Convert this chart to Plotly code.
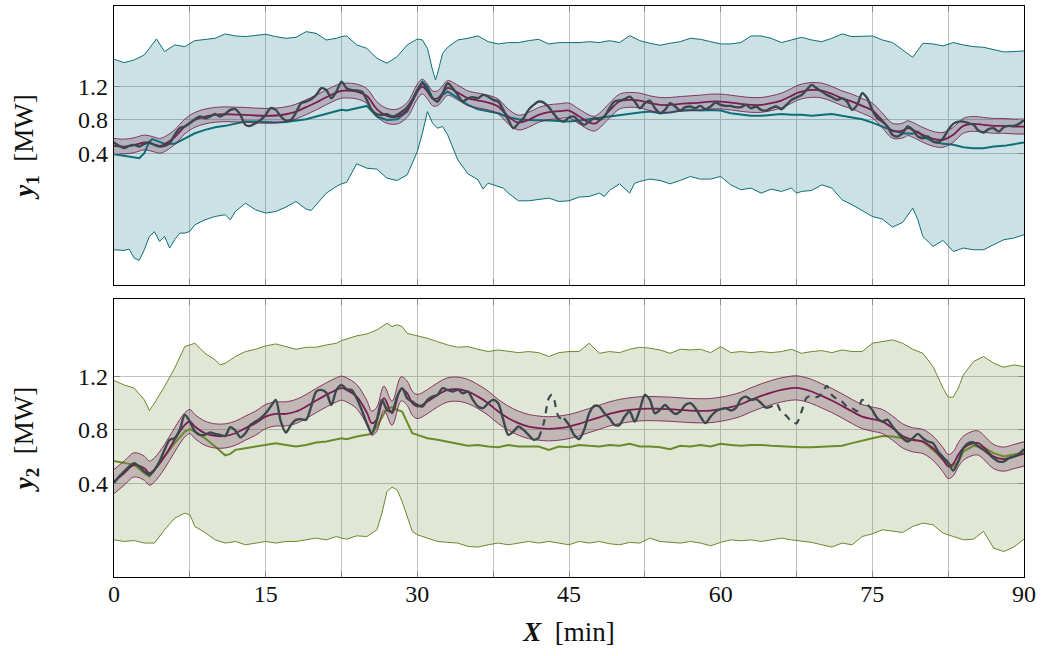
import plotly.graph_objects as go

FONT = "Liberation Serif, Times New Roman, serif"

# ---------------- top panel (y1) ----------------
top_upper = [(0,1.521),(1,1.481),(2,1.513),(3,1.572),(4.2,1.762),(5,1.612),(6,1.691),(7,1.671),(8,1.742),(9,1.758),
             (10,1.770),(11,1.822),(12,1.798),(13,1.790),(14,1.802),(15,1.818),(16,1.790),(17,1.770),(18,1.782),(19,1.849),
             (20,1.829),(21,1.750),(22,1.770),(22.5,1.790),(23,1.798),(24,1.691),(25,1.651),(26,1.533),(27,1.473),(28,1.552),
             (29,1.691),(30,1.762),(30.5,1.750),(31,1.651),(31.5,1.394),(31.8,1.275),(32,1.354),(32.5,1.592),(33,1.663),(34,1.750),
             (35,1.770),(36,1.798),(37,1.730),(38,1.703),(39,1.719),(40,1.719),(41,1.742),(42,1.758),(43,1.703),(44,1.719),
             (45,1.719),(46,1.719),(47,1.730),(48,1.719),(49,1.742),(50,1.719),(51,1.802),(52,1.742),(53,1.711),(54,1.687),
             (55,1.711),(56,1.730),(57,1.770),(58,1.758),(59,1.730),(60,1.703),(61,1.703),(62,1.719),(63,1.798),(64,1.798),
             (65,1.770),(66,1.719),(67,1.750),(68,1.782),(69,1.750),(70,1.730),(71,1.770),(72,1.822),(73,1.790),(74,1.798),
             (75,1.798),(76,1.750),(77,1.719),(78,1.632),(79,1.544),(80,1.711),(81,1.703),(82,1.679),(83,1.719),(84,1.691),
             (85,1.671),(86,1.663),(87,1.639),(88,1.608),(89,1.612),(90,1.620)]
top_lower = [(0,-0.744),(1,-0.752),(1.5,-0.736),(2,-0.843),(2.5,-0.870),(3,-0.744),(3.5,-0.585),(4,-0.530),(4.5,-0.645),
             (5,-0.585),(5.5,-0.724),(6,-0.625),(6.5,-0.546),(7,-0.546),(7.5,-0.526),(8,-0.447),(9,-0.388),(10,-0.348),
             (11,-0.328),(11.5,-0.388),(12,-0.289),(13,-0.190),(14,-0.269),(15,-0.308),(16,-0.289),(17,-0.237),(18,-0.170),
             (19,-0.261),(19.5,-0.277),(20,-0.209),(21,-0.071),(22,0.009),(22.5,0.040),(23,0.056),(24,0.278),(25,0.226),
             (26,0.214),(27,0.107),(28,0.079),(29,0.147),(30,0.424),(30.5,0.642),(31,0.899),(31.5,0.761),(32,0.701),
             (32.5,0.721),(33,0.622),(34,0.325),(35,0.159),(36,0.088),(36.5,-0.023),(37,0.048),(38,0.008),(38.5,-0.011),
             (39,-0.071),(40,-0.162),(41,-0.162),(42,-0.150),(43,-0.130),(44,-0.170),(45,-0.162),(46,-0.118),(47,-0.110),
             (48,-0.071),(48.5,-0.110),(49,-0.039),(50,0.040),(51,-0.071),(51.5,0.048),(52,0.068),(53,0.096),(54,0.080),
             (55,0.040),(56,0.080),(57,0.127),(58,0.096),(59,0.096),(60,0.127),(61,0.028),(62,-0.031),(63,-0.011),
             (64,-0.071),(65,-0.023),(66,-0.051),(67,-0.011),(67.5,-0.071),(68,-0.051),(69,-0.039),(70,0.028),(71,-0.011),
             (72,-0.150),(73,-0.209),(74,-0.277),(75,-0.348),(76,-0.380),(77,-0.475),(78,-0.419),(79,-0.249),(79.5,-0.388),
             (80,-0.586),(81,-0.704),(82,-0.633),(83,-0.764),(84,-0.724),(85,-0.744),(86,-0.744),(87,-0.684),(88,-0.625),
             (89,-0.605),(90,-0.566)]
top_mean = [(0,0.392),(1,0.375),(2,0.350),(2.5,0.345),(3,0.404),(3.5,0.543),(3.8,0.571),(4.5,0.543),(5,0.515),(6,0.515),
            (7,0.582),(8,0.641),(9,0.681),(10,0.713),(11,0.729),(12,0.753),(13,0.780),(14,0.780),(15,0.772),(16,0.768),
            (17,0.776),(18,0.788),(19,0.808),(20,0.840),(21,0.871),(22,0.907),(22.5,0.919),(23,0.911),(24,0.939),(25,0.966),
            (26,0.840),(27,0.800),(28,0.808),(29,0.899),(30,1.137),(30.5,1.255),(31,1.196),(31.5,1.057),(32,1.018),
            (32.5,1.097),(33,1.137),(34,1.057),(35,0.978),(36,0.927),(37,0.899),(38,0.879),(39,0.832),(40,0.808),(41,0.800),
            (42,0.800),(43,0.792),(44,0.788),(45,0.780),(46,0.792),(47,0.808),(48,0.820),(49,0.840),(50,0.860),(51,0.871),
            (52,0.887),(53,0.899),(54,0.879),(55,0.887),(56,0.911),(57,0.919),(58,0.911),(59,0.919),(60,0.911),(61,0.879),
            (62,0.860),(63,0.848),(64,0.848),(65,0.860),(66,0.871),(67,0.860),(68,0.860),(69,0.848),(70,0.860),(71,0.871),
            (72,0.848),(73,0.828),(74,0.808),(75,0.768),(76,0.721),(77,0.673),(78,0.642),(79,0.634),(79.5,0.661),(80,0.602),
            (81,0.543),(82,0.515),(83,0.503),(84,0.476),(85,0.464),(86,0.464),(87,0.483),(88,0.491),(89,0.511),(90,0.531)]
top_gp = [(0,0.491),(1,0.483),(2,0.499),(3,0.531),(4,0.507),(4.5,0.491),(5,0.511),(6,0.594),(7,0.721),(8,0.800),
          (9,0.840),(10,0.860),(11,0.867),(12,0.863),(13,0.860),(14,0.852),(15,0.848),(16,0.852),(17,0.867),(18,0.899),
          (19,0.951),(20,1.006),(21,1.069),(22,1.125),(22.5,1.145),(23,1.149),(24,1.137),(25,1.085),(26,0.927),(27,0.848),
          (28,0.840),(29,0.919),(30,1.137),(30.5,1.196),(31,1.137),(31.5,1.057),(32,1.057),(32.5,1.117),(33,1.180),
          (34,1.125),(35,1.057),(36,1.030),(37,1.006),(38,0.959),(39,0.840),(40,0.768),(41,0.800),(42,0.860),(43,0.891),
          (44,0.903),(45,0.911),(46,0.840),(47,0.770),(47.5,0.755),(48,0.790),(49,0.910),(50,1.018),(51,1.038),(52,1.030),
          (53,0.998),(54,0.978),(55,0.978),(56,0.990),(57,0.998),(58,1.006),(59,1.018),(60,1.018),(61,1.006),(62,0.990),
          (63,0.978),(64,0.978),(65,0.998),(66,1.030),(67,1.085),(67.5,1.117),(68,1.137),(69,1.156),(70,1.149),(71,1.109),
          (72,1.057),(73,1.018),(74,0.966),(75,0.911),(76,0.792),(77,0.670),(78,0.673),(78.5,0.701),(79,0.681),(80,0.622),
          (81,0.575),(82,0.563),(83,0.622),(84,0.729),(85,0.753),(86,0.741),(87,0.729),(88,0.729),(89,0.721),(90,0.721)]
top_meas = [(0,0.531),(0.5,0.491),(1,0.464),(1.5,0.491),(2,0.503),(2.5,0.483),(3,0.515),(3.5,0.531),(4,0.503),(4.5,0.483),
            (5,0.491),(5.5,0.523),(6,0.622),(6.5,0.701),(7,0.721),(7.5,0.761),(8,0.808),(8.5,0.840),(9,0.820),(9.5,0.840),
            (10,0.871),(10.5,0.840),(11,0.871),(11.5,0.919),(12,0.927),(12.5,0.860),(13,0.741),(13.5,0.729),(14,0.761),
            (14.5,0.800),(15,0.860),(15.5,0.939),(16,0.919),(16.5,0.840),(17,0.792),(17.5,0.800),(18,0.887),(18.5,0.998),
            (19,1.018),(19.5,1.046),(20,1.097),(20.5,1.176),(21,1.156),(21.5,1.057),(22,1.137),(22.5,1.255),(23,1.176),
            (23.5,1.156),(24,1.149),(24.5,1.137),(25,1.038),(25.5,0.919),(26,0.867),(26.5,0.860),(27,0.867),(27.5,0.840),
            (28,0.860),(28.5,0.899),(29,0.951),(29.5,1.038),(30,1.156),(30.5,1.236),(31,1.156),(31.5,1.057),(32,1.018),
            (32.5,1.117),(33,1.236),(33.5,1.176),(34,1.097),(34.5,1.018),(35,1.057),(35.5,1.069),(36,1.057),(36.5,1.097),
            (37,1.077),(37.5,1.038),(38,1.018),(38.5,0.919),(39,0.800),(39.5,0.701),(40,0.761),(40.5,0.820),(41,0.919),
            (41.5,0.978),(42,1.018),(42.5,1.006),(43,0.951),(43.5,0.871),(44,0.800),(44.5,0.780),(45,0.830),(45.5,0.840),
            (46,0.780),(46.5,0.741),(47,0.780),(47.5,0.820),(48,0.800),(48.5,0.840),(49,0.939),(49.5,1.018),(50,1.030),
            (50.5,1.046),(51,1.077),(51.5,1.018),(52,0.939),(52.5,0.998),(53,1.030),(53.5,0.939),(54,0.879),(54.5,0.919),
            (55,0.998),(55.5,0.959),(56,0.911),(56.5,0.951),(57,0.959),(57.5,0.939),(58,0.966),(58.5,0.927),(59,0.959),
            (59.5,1.006),(60,0.978),(60.5,0.966),(61,0.966),(61.5,0.951),(62,0.951),(62.5,0.978),(63,0.939),(63.5,0.959),
            (64,0.919),(64.5,0.911),(65,0.939),(65.5,0.959),(66,0.927),(66.5,0.978),(67,1.038),(67.5,1.067),(68,1.097),
            (68.5,1.156),(69,1.216),(69.5,1.176),(70,1.137),(70.5,1.097),(71,1.069),(71.5,1.038),(72,1.057),(72.5,1.018),
            (73,0.919),(73.5,0.978),(74,1.117),(74.5,1.057),(75,0.919),(75.5,0.820),(76,0.780),(76.5,0.721),(77,0.622),
            (77.5,0.602),(78,0.642),(78.5,0.721),(79,0.681),(79.5,0.602),(80,0.582),(80.5,0.602),(81,0.543),(81.5,0.531),
            (82,0.582),(82.5,0.681),(83,0.753),(83.5,0.780),(84,0.780),(84.5,0.761),(85,0.741),(85.5,0.673),(86,0.650),
            (86.5,0.689),(87,0.701),(87.5,0.661),(88,0.713),(88.5,0.729),(89,0.729),(89.5,0.753),(90,0.800)]
top_gp_halfwidth = 0.088

# ---------------- bottom panel (y2) ----------------
bot_upper = [(0,1.168),(1,1.135),(2,1.111),(3,1.024),(3.5,0.944),(4,0.999),(5,1.123),(6,1.260),(7,1.421),(7.5,1.433),
             (8,1.446),(9,1.371),(10,1.322),(10.5,1.284),(11,1.297),(12,1.347),(13,1.384),(14,1.401),(15,1.426),(16,1.441),
             (17,1.421),(18,1.401),(19,1.416),(20,1.416),(21,1.433),(22,1.446),(22.5,1.466),(23,1.476),(24,1.501),(25,1.515),
             (26,1.545),(26.5,1.570),(27,1.595),(27.5,1.570),(28,1.583),(28.5,1.570),(29,1.520),(30,1.501),(31,1.483),
             (32,1.458),(33,1.433),(34,1.416),(35,1.421),(36,1.401),(37,1.384),(38,1.396),(39,1.384),(40,1.376),(41,1.384),
             (42,1.376),(43,1.347),(44,1.376),(45,1.384),(46,1.384),(47,1.446),(48,1.371),(49,1.384),(50,1.376),(51,1.401),
             (52,1.416),(53,1.409),(54,1.396),(55,1.371),(56,1.401),(57,1.396),(58,1.401),(59,1.376),(60,1.421),(61,1.376),
             (62,1.384),(63,1.376),(64,1.384),(65,1.376),(66,1.384),(67,1.401),(68,1.371),(69,1.384),(70,1.391),(71,1.376),
             (72,1.396),(73,1.384),(74,1.384),(75,1.446),(76,1.458),(77,1.471),(78,1.446),(79,1.401),(80,1.371),(81,1.272),
             (82,1.111),(82.5,1.044),(83,1.044),(83.5,1.111),(84,1.210),(85,1.309),(86,1.347),(87,1.297),(88,1.267),
             (89,1.284),(90,1.272)]
bot_lower = [(0,-0.020),(1,-0.032),(2,-0.025),(3,-0.044),(4,-0.044),(5,0.055),(6,0.142),(7,0.179),(7.5,0.167),(8,0.080),
             (9,0.035),(10,-0.020),(11,-0.044),(12,-0.032),(13,-0.057),(14,-0.044),(15,-0.032),(16,-0.044),(17,-0.032),
             (18,-0.032),(19,-0.020),(20,-0.007),(21,-0.020),(22,0.005),(22.5,-0.007),(23,-0.015),(24,0.010),(25,0.005),
             (25.5,0.030),(26,0.055),(26.5,0.179),(27,0.341),(27.5,0.373),(28,0.353),(28.5,0.266),(29,0.154),(29.5,0.043),
             (30,0.018),(31,-0.007),(32,-0.032),(33,-0.039),(34,-0.044),(35,-0.069),(36,-0.074),(37,-0.057),(38,-0.044),
             (39,-0.057),(40,-0.044),(41,-0.032),(42,-0.044),(43,-0.032),(44,-0.044),(45,-0.057),(46,-0.032),(47,-0.044),
             (48,-0.032),(49,-0.049),(50,-0.057),(51,-0.039),(52,-0.044),(53,-0.007),(54,-0.032),(55,-0.039),(56,-0.044),
             (57,-0.032),(58,-0.044),(59,-0.064),(60,-0.039),(61,-0.020),(62,-0.027),(63,-0.020),(64,-0.032),(65,-0.020),
             (66,-0.007),(67,-0.020),(68,-0.032),(69,-0.039),(70,-0.057),(71,-0.074),(72,-0.044),(73,-0.057),(74,0.005),
             (75,0.025),(76,0.055),(77,0.043),(78,0.035),(79,0.080),(80,0.105),(81,0.092),(82,0.030),(83,0.005),(84,-0.020),
             (85,-0.015),(86,0.043),(87,-0.082),(88,-0.107),(89,-0.074),(90,-0.015)]
bot_mean = [(0,0.569),(1,0.552),(2,0.539),(3,0.477),(3.5,0.452),(4,0.502),(5,0.601),(6,0.701),(7,0.788),(7.5,0.805),
            (8,0.788),(9,0.738),(10,0.676),(11,0.610),(11.5,0.621),(12,0.651),(13,0.663),(14,0.676),(15,0.688),(16,0.701),
            (17,0.688),(18,0.676),(19,0.688),(20,0.706),(21,0.713),(22,0.726),(22.5,0.738),(23,0.731),(24,0.750),(25,0.763),
            (25.5,0.770),(26,0.825),(26.5,0.899),(27,0.962),(27.5,0.969),(28,0.949),(28.5,0.937),(29,0.850),(29.5,0.775),
            (30,0.763),(31,0.738),(32,0.726),(33,0.713),(34,0.696),(35,0.681),(36,0.688),(37,0.676),(38,0.671),(39,0.688),
            (40,0.676),(41,0.676),(42,0.676),(43,0.651),(44,0.676),(45,0.671),(46,0.688),(47,0.681),(48,0.676),(49,0.688),
            (50,0.681),(51,0.696),(52,0.676),(53,0.676),(54,0.671),(55,0.656),(56,0.681),(57,0.676),(58,0.688),(59,0.676),
            (60,0.696),(61,0.688),(62,0.681),(63,0.688),(64,0.688),(65,0.681),(66,0.676),(67,0.671),(68,0.671),(69,0.671),
            (70,0.676),(71,0.676),(72,0.681),(73,0.701),(74,0.721),(75,0.738),(76,0.755),(77,0.750),(78,0.738),(79,0.726),
            (80,0.713),(81,0.651),(82,0.577),(82.5,0.539),(83,0.527),(83.5,0.564),(84,0.639),(85,0.681),(86,0.671),
            (87,0.626),(88,0.601),(89,0.614),(90,0.631)]
bot_gp = [(0,0.415),(1,0.477),(2,0.539),(3,0.514),(3.5,0.477),(4,0.502),(5,0.601),(6,0.726),(7,0.837),(7.5,0.862),
          (8,0.825),(9,0.775),(10,0.755),(11,0.755),(12,0.775),(13,0.813),(14,0.850),(15,0.899),(16,0.919),(17,0.919),
          (18,0.937),(19,0.974),(20,1.019),(21,1.061),(22,1.098),(22.5,1.111),(23,1.098),(24,1.048),(25,0.930),
          (25.5,0.850),(26,0.880),(26.7,1.036),(27.5,0.924),(28.4,1.106),(29,1.073),(29.5,0.999),(30,0.974),(31,1.011),
          (32,1.061),(33,1.098),(34,1.103),(35,1.086),(36,1.048),(37,0.999),(38,0.937),(39,0.887),(40,0.850),(41,0.825),
          (42,0.813),(43,0.808),(44,0.813),(45,0.825),(46,0.845),(47,0.870),(48,0.894),(49,0.919),(50,0.937),(51,0.949),
          (52,0.957),(53,0.959),(54,0.957),(55,0.954),(56,0.949),(57,0.944),(58,0.942),(59,0.944),(60,0.954),(61,0.969),
          (62,0.991),(63,1.024),(64,1.053),(65,1.078),(66,1.098),(67,1.111),(67.5,1.113),(68,1.108),(69,1.086),(70,1.053),
          (71,1.019),(72,0.979),(73,0.937),(74,0.899),(75,0.880),(76,0.862),(77,0.813),(78,0.755),(79,0.726),(80,0.713),
          (81,0.663),(82,0.577),(82.5,0.527),(83,0.547),(83.5,0.614),(84,0.663),(85,0.701),(85.5,0.701),(86,0.671),
          (87,0.601),(88,0.582),(89,0.601),(90,0.621)]
bot_meas = [(0,0.403),(0.5,0.452),(1,0.490),(1.5,0.527),(2,0.552),(2.5,0.527),(3,0.490),(3.5,0.465),(4,0.502),(4.5,0.564),
            (5,0.651),(5.5,0.726),(6,0.738),(6.5,0.800),(7,0.912),(7.5,0.862),(8,0.788),(8.5,0.763),(9,0.763),(9.5,0.780),
            (10,0.770),(10.5,0.763),(11,0.755),(11.5,0.820),(12,0.795),(12.5,0.745),(13,0.775),(13.5,0.837),(14,0.862),
            (14.5,0.887),(15,0.924),(15.5,0.974),(16,1.024),(16.5,0.862),(17,0.780),(17.5,0.837),(18,0.875),(18.5,0.880),
            (19,0.875),(19.5,0.974),(20,1.086),(20.5,1.098),(21,1.078),(21.5,0.986),(22,1.098),(22.5,1.135),(23,1.103),
            (23.5,1.098),(24,1.036),(24.5,0.949),(25,0.850),(25.5,0.775),(26,0.875),(26.5,1.024),(27,0.949),(27.5,0.937),
            (28,1.048),(28.5,1.111),(29,1.036),(29.5,1.011),(30,0.986),(30.5,0.974),(31,1.024),(31.5,1.048),(32,1.061),
            (32.5,1.111),(33,1.098),(33.5,1.086),(34,1.098),(34.5,1.073),(35,1.086),(35.5,1.024),(36,0.974),(36.5,0.962),
            (37,0.999),(37.5,1.024),(38,0.999),(38.5,0.875),(39,0.763),(39.5,0.788),(40,0.825),(40.5,0.800),(41,0.763),
            (41.5,0.726),(42,0.738),(42.5,0.850),(43,1.036),(43.3,1.061),(43.5,1.036),(44,0.894),(44.5,0.887),(45,0.837),
            (45.5,0.763),(46,0.731),(46.5,0.800),(47,0.924),(47.5,0.979),(48,0.974),(48.5,0.924),(49,0.887),(49.5,0.837),
            (50,0.837),(50.5,0.899),(51,0.937),(51.5,0.862),(52,0.949),(52.5,1.061),(53,1.024),(53.5,0.924),(54,0.949),
            (54.5,0.986),(55,0.949),(55.5,0.919),(56,0.937),(56.5,0.986),(57,0.999),(57.5,0.962),(58,0.899),(58.5,0.850),
            (59,0.899),(59.5,0.937),(60,0.954),(60.5,0.962),(61,0.944),(61.5,0.962),(62,1.029),(62.5,1.048),(63,1.024),
            (63.5,1.029),(64,0.999),(64.5,0.962),(65,0.974),(65.5,0.999),(66,0.930),(66.5,0.904),(67,0.862),(67.5,0.850),
            (68,0.937),(68.5,1.040),(69,1.053),(69.5,1.044),(70,1.068),(70.5,1.128),(71,1.060),(71.5,1.030),(72,1.011),
            (72.5,0.974),(73,0.962),(73.5,0.940),(74,1.024),(74.5,0.990),(75,0.949),(75.5,0.887),(76,0.862),(76.5,0.875),
            (77,0.825),(77.5,0.780),(78,0.738),(78.5,0.713),(79,0.738),(79.5,0.770),(80,0.738),(80.5,0.713),(81,0.701),
            (81.5,0.639),(82,0.596),(82.5,0.557),(83,0.497),(83.5,0.564),(84,0.663),(84.5,0.701),(85,0.706),(85.5,0.676),
            (86,0.651),(86.5,0.621),(87,0.589),(87.5,0.564),(88,0.564),(88.5,0.589),(89,0.601),(89.5,0.621),(90,0.656)]
bot_gp_halfwidth = 0.09
bot_dashed_ranges = [(42, 44.5), (64.5, 75)]

x_range = [0, 90]
x_major_step = 15
x_minor_step = 7.5
y_tickvals = [0.4, 0.8, 1.2]
y_ticktext = ["0.4", "0.8", "1.2"]

# ---------------- styles ----------------
TEAL = "#0c6f79"
TEAL_FILL = "rgba(0,105,115,0.20)"
OLIVE = "#6a8a2c"
OLIVE_FILL = "rgba(107,135,50,0.20)"
PURPLE = "#7b1d52"
PURPLE_FILL = "rgba(105,45,90,0.26)"
DARK = "#3b494d"
GRID = "#c2c2c2"
TICKC = "#8a8a8a"


def unzip(pts):
    return [p[0] for p in pts], [p[1] for p in pts]


fig = go.Figure()


def add_panel(upper, lower, mean, gp, hw, meas, color, fill, xa, ya, dashed=()):
    ux, uy = unzip(upper)
    lx, ly = unzip(lower)
    fig.add_trace(go.Scatter(x=ux + lx[::-1], y=uy + ly[::-1], fill="toself", fillcolor=fill,
                             line=dict(width=0), mode="lines", hoverinfo="skip", showlegend=False,
                             xaxis=xa, yaxis=ya))
    for xs, ys in ((ux, uy), (lx, ly)):
        fig.add_trace(go.Scatter(x=xs, y=ys, mode="lines", line=dict(color=color, width=1),
                                 showlegend=False, xaxis=xa, yaxis=ya))
    gx, gy = unzip(gp)
    gu = [v + hw for v in gy]
    gl = [v - hw for v in gy]
    fig.add_trace(go.Scatter(x=gx + gx[::-1], y=gu + gl[::-1], fill="toself", fillcolor=PURPLE_FILL,
                             line=dict(width=0, shape="spline"), mode="lines", hoverinfo="skip",
                             showlegend=False, xaxis=xa, yaxis=ya))
    mx, my = unzip(mean)
    fig.add_trace(go.Scatter(x=mx, y=my, mode="lines", line=dict(color=color, width=2),
                             showlegend=False, xaxis=xa, yaxis=ya))
    for ys in (gu, gl):
        fig.add_trace(go.Scatter(x=gx, y=ys, mode="lines", line=dict(color=PURPLE, width=1, shape="spline"),
                                 opacity=0.85, showlegend=False, xaxis=xa, yaxis=ya))
    fig.add_trace(go.Scatter(x=gx, y=gy, mode="lines", line=dict(color=PURPLE, width=1.8, shape="spline"),
                             showlegend=False, xaxis=xa, yaxis=ya))
    ex, ey = unzip(meas)
    solid = [None if any(lo < x < hi for lo, hi in dashed) else y for x, y in zip(ex, ey)]
    fig.add_trace(go.Scatter(x=ex, y=solid, mode="lines", connectgaps=False,
                             line=dict(color=DARK, width=2.4, shape="spline", smoothing=0.8),
                             showlegend=False, xaxis=xa, yaxis=ya))
    if dashed:
        dsh = [y if any(lo <= x <= hi for lo, hi in dashed) else None for x, y in zip(ex, ey)]
        fig.add_trace(go.Scatter(x=ex, y=dsh, mode="lines", connectgaps=False,
                                 line=dict(color=DARK, width=2.2, dash="7px,6px", shape="spline", smoothing=0.8),
                                 showlegend=False, xaxis=xa, yaxis=ya))


add_panel(top_upper, top_lower, top_mean, top_gp, top_gp_halfwidth, top_meas, TEAL, TEAL_FILL, "x", "y")
add_panel(bot_upper, bot_lower, bot_mean, bot_gp, bot_gp_halfwidth, bot_meas, OLIVE, OLIVE_FILL, "x2", "y2",
          dashed=bot_dashed_ranges)


def tickfont():
    return dict(family=FONT, size=24, color="#111")


def axis_x(**kw):
    d = dict(range=x_range, tickmode="linear", tick0=0, dtick=x_major_step, showgrid=True,
             gridcolor=GRID, gridwidth=1.2, zeroline=False, showline=True, linecolor="black", linewidth=1.3,
             mirror="ticks", ticks="inside", ticklen=6, tickcolor=TICKC, tickwidth=1.2, tickfont=tickfont(),
             minor=dict(dtick=x_minor_step, tick0=0, showgrid=True, gridcolor=GRID, gridwidth=1.2,
                        ticks="inside", ticklen=6, tickcolor=TICKC, tickwidth=1.2))
    d.update(kw)
    return d


def axis_y(**kw):
    d = dict(tickmode="array", tickvals=y_tickvals, ticktext=y_ticktext, showgrid=True, gridcolor=GRID,
             gridwidth=1.2, zeroline=False, showline=True, linecolor="black", linewidth=1.3, mirror="ticks",
             ticks="inside", ticklen=6, tickcolor=TICKC, tickwidth=1.2, tickfont=tickfont(),
             ticklabelstandoff=0)
    d.update(kw)
    return d


TITLE_SIZE = 27

fig.update_layout(
    width=1042, height=656,
    margin=dict(l=114, r=18, t=6, b=79),
    paper_bgcolor="white", plot_bgcolor="white",
    font=dict(family=FONT, size=24, color="#111"),
    showlegend=False,
    xaxis=axis_x(domain=[0, 1], anchor="y", showticklabels=False),
    xaxis2=axis_x(domain=[0, 1], anchor="y2", matches="x", ticklabelstandoff=-5,
                  title=dict(text="<b><i>X</i></b>\u00a0\u00a0[min]", font=dict(family=FONT, size=TITLE_SIZE),
                             standoff=16)),
    yaxis=axis_y(domain=[0.5114, 1.0], anchor="x", range=[-1.163, 2.154],
                 title=dict(text="<b><i>y</i><sub>1</sub></b>\u00a0\u00a0[MW]",
                            font=dict(family=FONT, size=TITLE_SIZE), standoff=36)),
    yaxis2=axis_y(domain=[0.0, 0.4869], anchor="x2", range=[-0.297, 1.776],
                  title=dict(text="<b><i>y</i><sub>2</sub></b>\u00a0\u00a0[MW]",
                             font=dict(family=FONT, size=TITLE_SIZE), standoff=36)),
)

fig.write_html("out.html", config={"displayModeBar": False},
               post_script="document.body.style.margin='0px';document.body.style.overflow='hidden';")
